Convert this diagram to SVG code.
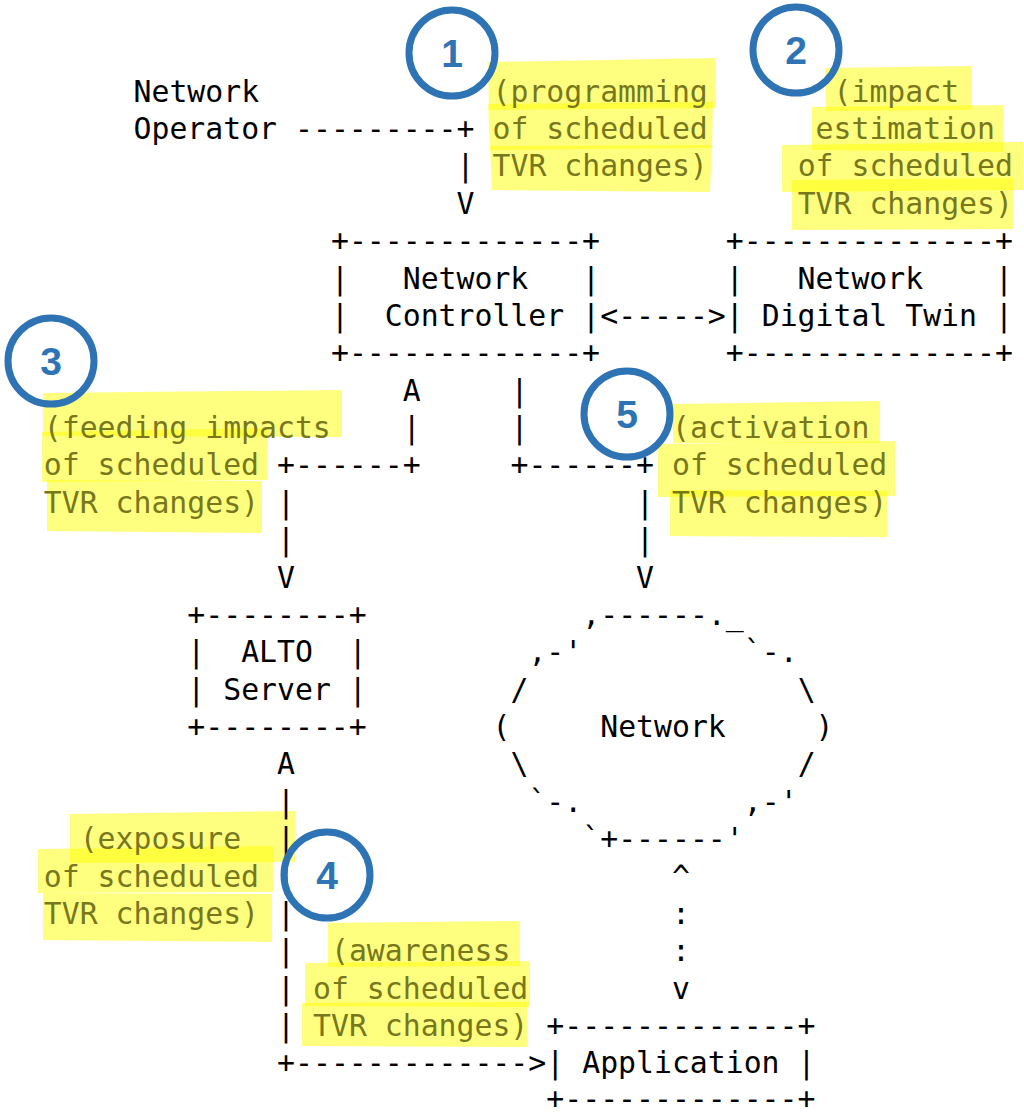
<svg xmlns="http://www.w3.org/2000/svg" width="1024" height="1113" viewBox="0 0 1024 1113">
  <style>
    text { font-family: "DejaVu Sans Mono", "Liberation Mono", monospace; font-size: 29.8px; white-space: pre; }
    .ink { fill: #000000; }
    .note { fill: #77771c; }
    .hl { fill: #ffff00; fill-opacity: 0.5; }
    .badge circle { fill: none; stroke: #2e74b5; stroke-width: 7; }
    .badge text { font-family: "Liberation Sans", Arial, sans-serif; font-weight: bold; font-size: 39px; fill: #2e74b5; text-anchor: middle; }
  </style>
  <rect width="1024" height="1113" fill="#ffffff"/>

  <!-- highlighter strokes behind the annotation texts -->
  <g id="highlights">
    <polygon class="hl" points="488,62 715,58 716,108 489,110"/>
    <polygon class="hl" points="488,104 713,102 712,148 490,150"/>
    <polygon class="hl" points="490,146 712,145 710,192 492,190"/>

    <polygon class="hl" points="825,68 971,66 971,110 826,111"/>
    <polygon class="hl" points="812,107 1003,105 1003,152 812,150"/>
    <polygon class="hl" points="782,145 1023,142 1023,190 782,192"/>
    <polygon class="hl" points="792,180 1013,178 1013,229 792,230"/>

    <polygon class="hl" points="43,393 342,390 342,437 43,436"/>
    <polygon class="hl" points="42,432 267,428 267,480 42,482"/>
    <polygon class="hl" points="47,480 262,481 262,533 47,531"/>

    <polygon class="hl" points="673,404 880,401 880,443 673,443"/>
    <polygon class="hl" points="658,444 895,441 895,496 658,497"/>
    <polygon class="hl" points="670,490 887,491 887,537 670,536"/>

    <polygon class="hl" points="70,814 295,811 295,862 70,863"/>
    <polygon class="hl" points="38,849 273,846 273,892 38,893"/>
    <polygon class="hl" points="43,893 272,894 272,942 43,940"/>

    <polygon class="hl" points="328,923 520,921 520,966 328,967"/>
    <polygon class="hl" points="305,963 530,961 530,1007 305,1006"/>
    <polygon class="hl" points="302,1003 527,1002 527,1047 302,1046"/>
  </g>

  <!-- nodes -->
  <g id="network-operator" class="ink">
    <text x="133.5" y="101.7">Network</text>
    <text x="133.5" y="139.1">Operator</text>
  </g>

  <g id="network-controller" class="ink">
    <text x="330.95" y="251.2">+-------------+</text>
    <text x="330.95" y="288.6">|   Network   |</text>
    <text x="330.95" y="325.9">|  Controller |</text>
    <text x="330.95" y="363.3">+-------------+</text>
  </g>

  <g id="network-digital-twin" class="ink">
    <text x="725.85" y="251.2">+--------------+</text>
    <text x="725.85" y="288.6">|   Network    |</text>
    <text x="725.85" y="325.9">| Digital Twin |</text>
    <text x="725.85" y="363.3">+--------------+</text>
  </g>

  <g id="alto-server" class="ink">
    <text x="187.35" y="624.9">+--------+</text>
    <text x="187.35" y="662.3">|  ALTO  |</text>
    <text x="187.35" y="699.6">| Server |</text>
    <text x="187.35" y="737.0">+--------+</text>
  </g>

  <g id="network-cloud" class="ink">
    <text x="582.25" y="624.9">,------._</text>
    <text x="528.4" y="662.3">,-'</text>
    <text x="743.8" y="662.3">`-.</text>
    <text x="510.45" y="699.6">/</text>
    <text x="797.65" y="699.6">\</text>
    <text x="492.5" y="737.0">(</text>
    <text x="600.2" y="737.0">Network</text>
    <text x="815.6" y="737.0">)</text>
    <text x="510.45" y="774.4">\</text>
    <text x="797.65" y="774.4">/</text>
    <text x="528.4" y="811.7">`-.</text>
    <text x="743.8" y="811.7">,-'</text>
    <text x="582.25" y="849.1">`+------'</text>
  </g>

  <g id="application" class="ink">
    <text x="546.35" y="1036.0">+-------------+</text>
    <text x="546.35" y="1073.3">| Application |</text>
    <text x="546.35" y="1108.5">+-------------+</text>
  </g>

  <!-- connectors drawn as ASCII strokes -->
  <g id="connectors" class="ink">
    <text x="295.05" y="139.1">---------+</text>
    <text x="456.6" y="176.4">|</text>
    <text x="456.6" y="213.8">V</text>

    <text x="600.2" y="325.9">&lt;-----&gt;</text>

    <text x="402.75" y="400.7">A</text>
    <text x="402.75" y="438.0">|</text>
    <text x="277.1" y="475.4">+------+</text>
    <text x="277.1" y="512.8">|</text>
    <text x="277.1" y="550.1">|</text>
    <text x="277.1" y="587.5">V</text>

    <text x="510.45" y="400.7">|</text>
    <text x="510.45" y="438.0">|</text>
    <text x="510.45" y="475.4">+------+</text>
    <text x="636.1" y="512.8">|</text>
    <text x="636.1" y="550.1">|</text>
    <text x="636.1" y="587.5">V</text>

    <text x="277.1" y="774.4">A</text>
    <text x="277.1" y="811.7">|</text>
    <text x="277.1" y="849.1">|</text>
    <text x="277.1" y="886.5">|</text>
    <text x="277.1" y="923.8">|</text>
    <text x="277.1" y="961.2">|</text>
    <text x="277.1" y="998.6">|</text>
    <text x="277.1" y="1036.0">|</text>
    <text x="277.1" y="1073.3">+-------------&gt;</text>

    <text x="672" y="886.5">^</text>
    <text x="672" y="923.8">:</text>
    <text x="672" y="961.2">:</text>
    <text x="672" y="998.6">v</text>
  </g>

  <!-- annotation texts -->
  <g id="label-programming" class="note">
    <text x="492.5" y="101.7">(programming</text>
    <text x="492.5" y="139.1">of scheduled</text>
    <text x="492.5" y="176.4">TVR changes)</text>
  </g>
  <g id="label-impact" class="note">
    <text x="833.55" y="101.7">(impact</text>
    <text x="815.6" y="139.1">estimation</text>
    <text x="797.65" y="176.4">of scheduled</text>
    <text x="797.65" y="213.8">TVR changes)</text>
  </g>
  <g id="label-feeding" class="note">
    <text x="43.75" y="438.0">(feeding impacts</text>
    <text x="43.75" y="475.4">of scheduled</text>
    <text x="43.75" y="512.8">TVR changes)</text>
  </g>
  <g id="label-activation" class="note">
    <text x="672" y="438.0">(activation</text>
    <text x="672" y="475.4">of scheduled</text>
    <text x="672" y="512.8">TVR changes)</text>
  </g>
  <g id="label-exposure" class="note">
    <text x="79.65" y="849.1">(exposure</text>
    <text x="43.75" y="886.5">of scheduled</text>
    <text x="43.75" y="923.8">TVR changes)</text>
  </g>
  <g id="label-awareness" class="note">
    <text x="330.95" y="961.2">(awareness</text>
    <text x="313" y="998.6">of scheduled</text>
    <text x="313" y="1036.0">TVR changes)</text>
  </g>

  <!-- numbered step badges -->
  <g id="badge-1" class="badge"><circle cx="452" cy="53" r="43"/><text x="452" y="67">1</text></g>
  <g id="badge-2" class="badge"><circle cx="796" cy="50" r="43"/><text x="796" y="64">2</text></g>
  <g id="badge-3" class="badge"><circle cx="51" cy="361" r="43"/><text x="51" y="375">3</text></g>
  <g id="badge-4" class="badge"><circle cx="327" cy="875" r="43"/><text x="327" y="889">4</text></g>
  <g id="badge-5" class="badge"><circle cx="627" cy="414" r="43"/><text x="627" y="428">5</text></g>
</svg>
